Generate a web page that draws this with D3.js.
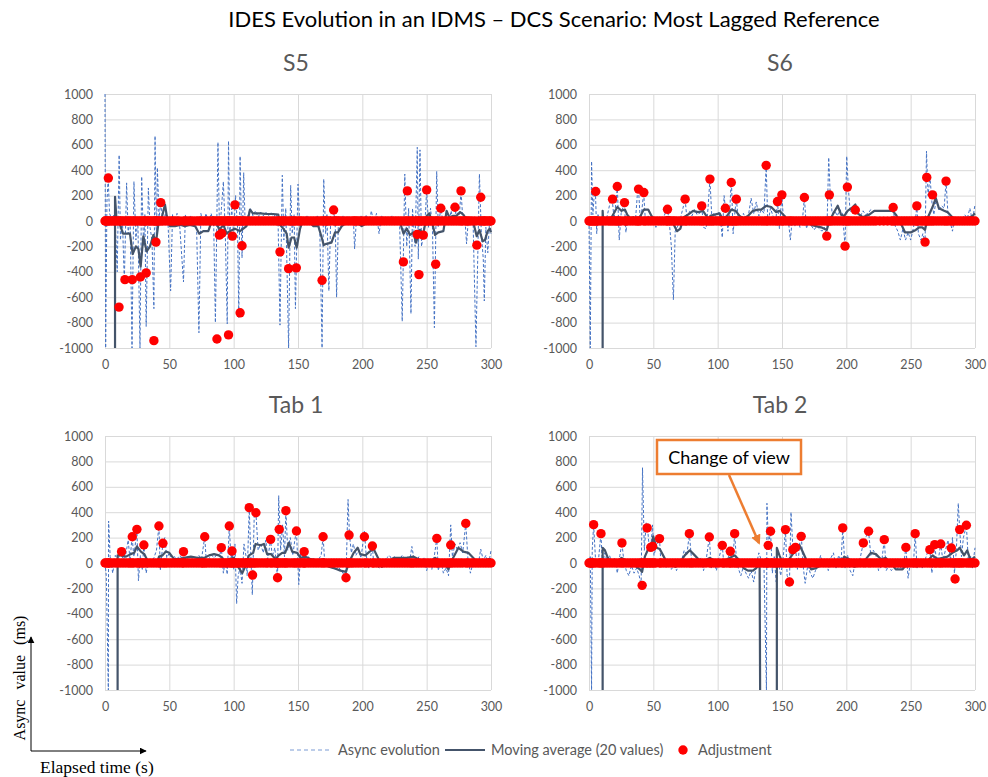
<!DOCTYPE html>
<html>
<head>
<meta charset="utf-8">
<script src="https://cdn.jsdelivr.net/npm/d3@7"></script>
<style>
  body { margin: 0; background: #fff; }
</style>
</head>
<body>
<svg id="chart" width="988" height="777" font-family="Lato, 'Open Sans', sans-serif"></svg>
<script>
// ---- data ----
const xTicks = [0, 50, 100, 150, 200, 250, 300];
const yTicks = [-1000, -800, -600, -400, -200, 0, 200, 400, 600, 800, 1000];

// async evolution, [seconds, ms]
const s5Async = [[0,1000],[0.5,-1000],[1.5,150],[2.5,340],[3.5,60],[5,20],[6.5,50],[8,-20],[9.5,-400],[11,520],[12,-150],[13.5,30],[15,-480],[16.8,300],[18,-100],[19.5,40],[21,-1000],[22.5,310],[24,-150],[25.5,20],[27.2,-1000],[28.5,350],[30,-200],[31,50],[32,-830],[33.7,260],[35,-50],[36.5,-150],[38,-690],[38.9,670],[40,-200],[40.7,420],[42,30],[43.5,150],[45,-30],[47,60],[49,-20],[51,-550],[52.5,50],[54,-20],[56,60],[58,-30],[61,-480],[62.5,50],[64.5,-30],[66.5,40],[68.5,-40],[71,40],[73,-880],[74.5,60],[76.5,-30],[78.5,60],[80.5,-20],[82.5,60],[84.5,-40],[85.8,-800],[87.8,620],[89,-100],[90.5,100],[92,310],[93.5,-100],[95,-810],[96,630],[97,-100],[98.5,100],[100,-100],[101.5,200],[103,-50],[104,-760],[105,510],[106.5,-290],[107.8,380],[109,-50],[111,40],[113,100],[115,40],[117,80],[119,30],[121,70],[123,40],[125,70],[127,40],[129,70],[131,30],[133,60],[134.5,0],[136,-820],[137.8,360],[139,-150],[140.5,100],[142.7,-1000],[144.3,280],[145.5,-100],[147,50],[148,-690],[150,290],[151.5,-50],[153,30],[155,-30],[157,40],[159,-20],[161,30],[163,-20],[165,40],[167,-100],[168.7,-1000],[170,330],[171.5,-100],[172.5,50],[174,-550],[175.5,50],[177.7,90],[179,-50],[180,-600],[181.5,40],[183,-30],[185,40],[187,-20],[189,40],[191,-30],[193,30],[194,-220],[195.5,30],[197,-30],[199,40],[201,-20],[203,50],[205,-30],[207,80],[209,-20],[211,60],[213,-100],[215,40],[217,-30],[219,30],[221,-20],[223,40],[225,-10],[227,30],[229,-30],[231,-790],[233,370],[234.5,-200],[236,100],[237.8,-730],[239,100],[241,-200],[242.7,580],[243.5,-300],[244.8,560],[246,-200],[247.5,-100],[249,50],[250,245],[251.5,-50],[253,100],[254.5,-50],[256,-840],[257.8,390],[259,-50],[261,100],[263,-30],[265,60],[267,-20],[269,80],[271,-30],[273,100],[275,-20],[276.7,237],[278,30],[280,-20],[281,-180],[282.5,30],[284,-20],[286,30],[288.3,-990],[291,370],[292.5,-100],[294,-300],[294.8,-630],[296,-50],[297.5,-250],[299,20],[300,-100]];
const s6Async = [[0,0],[1,-1000],[2,470],[3,50],[4,200],[5,232],[6,-100],[7,50],[9,-20],[11,40],[13,-10],[15,80],[16.5,150],[18,172],[19.5,20],[21,150],[22,272],[23.5,-150],[25,60],[27.5,145],[28.7,-90],[30,40],[32,0],[34,30],[36,-10],[37.5,200],[38.5,251],[40,-20],[42.5,224],[44,-30],[46,40],[48,-20],[50,30],[52,-50],[54,20],[56,-40],[58,30],[60,80],[61,92],[62.5,-20],[64,-200],[65.6,-620],[67,-80],[69,-40],[71,20],[73,100],[74.7,172],[76,30],[78,80],[80,40],[82,90],[84,50],[86,60],[87.6,119],[89,-50],[91,-60],[92.5,100],[94,330],[95.5,20],[97,60],[99,30],[101,70],[102.5,-20],[103.6,-130],[105,200],[106,100],[108,-80],[109.5,100],[110.6,340],[112,-100],[113.5,80],[114.5,172],[116,20],[118,-20],[120,60],[122,10],[124,50],[126,180],[128,60],[130,150],[132,40],[134,90],[136,60],[137.7,438],[139,-30],[141,100],[143,40],[145,-20],[146.5,153],[148,-60],[149.9,206],[151,30],[153,-30],[155,0],[156.5,-150],[158,20],[160,-40],[162,20],[164,-50],[166,20],[167.4,185],[169,-60],[171,10],[173,-40],[175,-70],[177,-40],[179,-60],[181,-80],[183,-50],[184.8,-119],[186.3,500],[187.5,206],[189,60],[191,80],[193,40],[195,90],[197,60],[199,-198],[200.3,510],[201.5,267],[203,70],[205,100],[207,87],[209,60],[211,40],[213,80],[215,50],[217,60],[219,90],[221,70],[223,80],[226,80],[229,80],[232,80],[235,80],[236.4,106],[238,-40],[240,-80],[242,-150],[244,-60],[246,-150],[248,-90],[250,-150],[252,-60],[254,40],[254.8,119],[256,-100],[258,-150],[259.5,-100],[261.2,-166],[262.3,550],[263.5,200],[265,350],[266.5,150],[268,50],[270,180],[272,80],[274,120],[276,100],[277.5,314],[279,50],[281,-20],[282.5,-80],[284,20],[286,0],[288,20],[290,10],[292,50],[294,20],[296,100],[298,0],[300,130]];
const tab1Async = [[0,0],[1,-100],[2.6,-1000],[2.8,330],[4,50],[6,-80],[8,60],[10,20],[12,90],[14,30],[16,60],[18,180],[19.5,20],[21,207],[22.5,50],[24.8,265],[26,-140],[27.5,60],[29,-50],[30.2,142],[32,-80],[34,30],[36,10],[38,40],[40,100],[41.9,291],[43,-60],[45,155],[46.5,200],[48,40],[50,80],[52,20],[54,50],[56,30],[58,60],[60,40],[61,89],[63,20],[65,40],[67,30],[69,50],[71,40],[73,60],[75,30],[76,100],[77.5,207],[79,-30],[81,40],[83,60],[85,40],[87,70],[89,50],[90.4,121],[92,-80],[93.5,20],[95,-90],[96.6,291],[98,20],[98.7,94],[100,-50],[101,150],[102.3,-320],[103.5,-100],[105,-40],[106.5,-160],[108,150],[109.5,60],[110.5,-100],[112.1,436],[113,150],[114.5,-250],[116,380],[117.3,396],[119,100],[121,150],[123,80],[125,180],[126.5,30],[128.7,186],[130,50],[132,120],[133.5,-50],[134.1,-116],[135,530],[136.5,100],[138,300],[139.5,50],[140.6,412],[142,100],[144,200],[146,60],[147.5,180],[148.8,252],[150.6,-170],[152,80],[154,40],[154.8,89],[156,-10],[158,50],[160,20],[162,40],[164,-20],[166,30],[168,60],[169.5,207],[171,-30],[173,20],[175,-40],[177,10],[179,-60],[181,-30],[183,-50],[185,-80],[187.3,-116],[188.9,500],[190,220],[191.5,80],[193,150],[195,60],[197,100],[199,40],[201.6,250],[203,60],[205,-40],[207.8,134],[209,-30],[211,-20],[213,-40],[215,-30],[217,20],[219,40],[221,60],[223,30],[225,50],[227,40],[229,30],[231,60],[233,40],[235,50],[237,30],[238.5,130],[240,40],[242,10],[244,50],[246,-30],[248,40],[250,-60],[252,20],[254,-50],[256,60],[257.9,194],[259,-60],[261,20],[263,-80],[265,-40],[267,-100],[268.7,300],[270,50],[272,150],[274,100],[276,160],[278,80],[280.4,312],[282,40],[284,-80],[286,0],[288,30],[290,-20],[292,110],[294,20],[296,60],[298,-20],[300,100]];
const tab2Async = [[0,0],[1,50],[2,-1000],[2.5,100],[3.6,302],[5,40],[7,-20],[8.5,150],[9.3,231],[10.5,-50],[12,80],[14,20],[16,60],[18,-20],[20,40],[22,-80],[24,60],[25.6,158],[27,20],[29,-60],[31,-100],[33,-20],[35,-80],[37,-40],[39,-100],[40.5,-176],[41.6,750],[43,100],[44.5,320],[45.5,276],[47,100],[48,123],[49.4,300],[50.5,60],[52,120],[54.8,192],[56,-20],[58,30],[60,-40],[62,20],[64,-50],[66,-20],[68,-60],[70,0],[72,20],[74,100],[76,60],[78,231],[79.5,50],[81,-20],[83,20],[85,0],[87,40],[89,-60],[91,20],[93.5,205],[95,-40],[97,20],[99,-60],[101,40],[103.6,139],[105,-40],[107,20],[109,60],[110,92],[111.5,-20],[113.2,231],[114.5,40],[116,-40],[118,-100],[120,-30],[122,-80],[124,-120],[126,-60],[128,-150],[130,-20],[132,80],[134,20],[136,-20],[137.9,-1000],[138.3,470],[139.5,139],[141.1,250],[142.5,-80],[144,50],[145.5,-150],[147,20],[149,-100],[151,50],[152.7,263],[154,-100],[155.8,-150],[157,400],[158.5,105],[160.5,123],[162,-50],[164,180],[165,210],[166.5,-30],[168,-160],[170,-20],[172,-80],[174,-120],[176,-60],[178,-20],[180,60],[182,-30],[184,20],[186,-60],[188,40],[190,80],[192,-40],[194,60],[196,20],[197.2,276],[199,-40],[201,60],[203,-60],[205,-100],[207,20],[209,-30],[211,50],[213.2,158],[215,200],[217.3,250],[219,60],[221,100],[223,60],[225,-60],[227,-30],[229.5,184],[231,-60],[233,-20],[235,-60],[237,-40],[239,-60],[241,-20],[243,-50],[245,20],[246.3,123],[248,-120],[250,20],[252,-40],[253.5,231],[255,-40],[257,30],[259,-40],[261,20],[263,80],[264.9,105],[266.5,-80],[268.7,145],[270,20],[272,60],[273.4,150],[275,20],[277,100],[279,180],[281,20],[282.5,200],[284,-80],[285.5,100],[287,470],[288.1,263],[289.5,50],[291,200],[293.3,297],[295,-20],[296.5,60],[298,-40],[300,120]];

// moving average (20 values), [seconds, ms]; null = no value
const s5Ma = [[7.8,-1000],[7.8,190],[9,0],[11.7,-30],[14,-100],[17,-100],[19.4,-100],[21.5,-260],[24,-200],[26,-220],[27.7,-360],[29.8,-120],[32.4,-240],[35,-200],[37.6,-110],[39.6,-170],[41.5,-20],[44,20],[46.6,130],[48,40],[50.5,-40],[54.4,-40],[58.3,-30],[62,-40],[66,-30],[70,-40],[73.3,-100],[76.4,-80],[80.3,-80],[84,30],[86.8,-20],[88.9,-70],[92,-30],[94.6,-100],[97,-80],[101,-60],[105,-80],[110,-40],[112.7,90],[115,60],[120.5,60],[125.6,55],[130.8,55],[134.7,50],[136,-30],[138.6,-60],[141.2,-100],[142.7,-210],[145,-130],[147,-130],[149,-210],[151.6,-60],[154,10],[156.7,10],[162,-40],[165.8,-40],[168.4,-130],[170,-190],[172,-180],[176,-170],[178.8,-90],[181,-90],[184,-40],[188,-10],[191.7,10],[195.6,-10],[199.5,-40],[203,-20],[208.5,10],[213.7,20],[219,10],[224,10],[229,0],[232,-100],[234.5,-60],[237,-110],[239.6,-90],[241.7,-170],[244.8,-70],[247.4,-100],[250,40],[252,60],[254,0],[256.5,-110],[259,-90],[263,-80],[265.5,80],[267.6,30],[270.7,40],[273,40],[276,70],[278.5,50],[281,10],[283.7,0],[286,0],[288.9,-120],[291,-70],[293.5,-160],[295.3,-150],[297.4,-80],[299,-60],[300,-90]];
const s6Ma = [[10.6,-1000],[10.6,80],[11,0],[13.7,-10],[17.6,30],[22,110],[25.3,80],[28,90],[29.7,50],[32.3,20],[34.4,30],[37,0],[39.5,30],[42.6,90],[46,90],[48.6,40],[52.5,0],[56.3,-10],[60.2,30],[62.8,30],[65.4,-20],[68.5,-80],[71,-60],[73.6,30],[77,50],[80.9,80],[84.8,70],[88.6,80],[91.2,40],[92.5,0],[94.3,40],[97.7,50],[101.6,60],[103.6,20],[106.7,30],[110.6,90],[114,80],[117,40],[120,20],[123.5,40],[127.4,80],[131.3,90],[133.9,90],[137.7,120],[141.6,110],[145.5,70],[148,80],[152,40],[154.5,0],[158.4,-10],[162.3,-20],[166,0],[168.7,10],[172.6,-30],[176.5,-40],[180.4,-50],[184.8,-70],[186.8,0],[189.4,50],[193.3,120],[195.9,50],[198.4,40],[201,80],[205,110],[207,130],[208.8,60],[212.7,30],[217.8,50],[221.7,80],[228,80],[235.9,80],[238.5,50],[242.4,-20],[245.7,-90],[250,-90],[254,-70],[256.6,-50],[259,-50],[261.2,-70],[263,20],[267,110],[269.5,180],[272,100],[276,80],[278.6,70],[282.4,30],[286.3,-10],[290,10],[294,20],[298,40],[300,60]];
const tab1Ma = [[9.8,-1000],[9.8,60],[12.4,60],[16.3,50],[20,70],[22.7,80],[24.8,130],[27.9,90],[30.5,70],[33,20],[36,10],[38.2,0],[40.3,0],[42,50],[44.7,60],[47.3,90],[50,80],[53.7,30],[57.6,30],[61.5,40],[66.7,50],[71.8,40],[77,40],[80.9,60],[84.8,70],[88.6,60],[91.2,40],[93.8,0],[96.4,30],[100.3,40],[102.8,-20],[106.7,-80],[109.3,-20],[111.9,60],[115.2,80],[117,150],[121,140],[123.5,150],[126,70],[129,70],[132.6,30],[135,60],[137.7,80],[140,80],[142.9,160],[145.5,90],[149.4,80],[152,40],[155.8,50],[159.7,30],[164.9,20],[170,30],[174,-30],[177.8,-40],[183,-60],[187.3,-70],[189.4,0],[193.3,80],[196.4,120],[198.4,70],[202.3,60],[205.7,90],[208.8,110],[212.7,30],[215.2,-30],[219,0],[224.3,40],[229.5,40],[234.6,40],[239.8,50],[243.7,30],[247.5,10],[252.7,10],[256.6,40],[260.5,10],[264.3,-10],[266.9,-50],[269.5,20],[274.7,120],[278.6,90],[282.4,80],[286.3,40],[290.2,0],[294,10],[298,30],[300,30]];
const tab2Ma = [[10.6,-1000],[10.6,120],[12.4,100],[15,30],[18.9,20],[22.7,20],[25.3,40],[29.2,20],[33,-10],[37,-30],[39.5,-50],[41.3,-70],[43.4,50],[46,110],[48.6,130],[49.9,210],[52.5,120],[55,110],[57.6,60],[60.2,10],[64,-10],[67.4,-30],[70.5,0],[74.4,60],[78.3,100],[82.2,60],[86,20],[90,20],[93.8,40],[97.7,20],[101.6,10],[105.4,20],[109.3,40],[113.2,60],[117,20],[120,-40],[123.5,-60],[127.4,-60],[130,-40],[132.6,-10],[133,-1000],[139,null],[146,-1000],[146,120],[148,60],[150.6,0],[153.7,0],[156.3,40],[159.7,90],[163.6,140],[166,90],[168.7,30],[172.6,-50],[176.5,-40],[181.7,-10],[186.8,10],[192,20],[195.9,10],[198.4,50],[202.3,30],[206.2,-30],[210,-20],[215.2,30],[219,80],[223,70],[226.9,30],[230.7,40],[234.6,0],[238.5,-50],[243.7,-50],[247.5,0],[251.4,20],[256.6,0],[261.8,0],[267,60],[270.9,30],[274.8,40],[278.6,50],[282.4,80],[286.3,100],[288.1,120],[291.5,60],[294,100],[296.6,20],[300,50]];

// adjustments (non-zero), [seconds, ms]; every other sample is a 0 adjustment
const s5Adj = [[2.6,338],[10.9,-678],[15.5,-462],[21.2,-462],[27.5,-441],[32,-409],[38,-942],[39.6,-166],[43.3,145],[87,-929],[88.9,-111],[90.7,-98],[96,-897],[99,-119],[101,127],[105,-723],[106.5,-195],[136,-243],[142.7,-375],[148.7,-369],[168.7,-467],[177.7,87],[231.9,-322],[235,237],[242.7,-106],[244,-422],[247.4,-111],[250,245],[257,-340],[261,100],[272,108],[276.7,237],[289,-190],[292,187]];
const s6Adj = [[5.2,232],[18.3,172],[22,272],[27.6,145],[38.5,251],[42.6,224],[61,92],[74.7,172],[87.6,119],[94,330],[106,100],[110.6,303],[114.5,172],[137.7,438],[146.5,153],[149.9,206],[167.4,185],[184.8,-119],[186.8,206],[199,-198],[200.8,267],[207,87],[236.4,106],[254.8,119],[261.2,-166],[262.5,343],[267,206],[277.5,314]];
const tab1Adj = [[12.9,89],[21.2,207],[24.8,265],[30.2,142],[41.9,291],[45,155],[61,89],[77.5,207],[90.4,121],[96.6,291],[98.7,94],[112.1,436],[114.7,-95],[117.3,396],[128.7,186],[134.1,-116],[135.4,265],[140.6,412],[148.8,252],[154.8,89],[169.5,207],[187.3,-116],[189.7,220],[201.6,207],[207.8,134],[257.9,194],[268.7,142],[280.4,312]];
const tab2Adj = [[3.6,302],[9.3,231],[25.6,158],[41.3,-176],[45.2,276],[48,123],[49.4,131],[54.8,192],[78,231],[93.5,205],[103.6,139],[109.8,92],[113.2,231],[139.3,139],[141.1,250],[152.7,263],[155.8,-150],[158.4,105],[160.5,123],[164.9,210],[197.2,276],[213.2,158],[217.3,250],[229.5,184],[246.3,123],[253.5,231],[264.9,105],[268.7,145],[273.4,150],[281.6,118],[284.5,-126],[288.1,263],[293.3,297]];

const panels = [
  { title: "S5",    async: s5Async,   ma: s5Ma,   adj: s5Adj,   left: 105, top: 94 },
  { title: "S6",    async: s6Async,   ma: s6Ma,   adj: s6Adj,   left: 589, top: 94 },
  { title: "Tab 1", async: tab1Async, ma: tab1Ma, adj: tab1Adj, left: 105, top: 436 },
  { title: "Tab 2", async: tab2Async, ma: tab2Ma, adj: tab2Adj, left: 589, top: 436 }
];

// ---- drawing ----
const plotW = 386, plotH = 254;
const gridColor = "#d9d9d9", labelColor = "#595959";
const asyncColor = "#4472c4", maColor = "#44546a", adjColor = "#ff0000";
const serif = "'Liberation Serif', 'DejaVu Serif', serif";

const svg = d3.select("#chart");
svg.append("rect").attr("width", 988).attr("height", 777).attr("fill", "#fff");

const defs = svg.append("defs");
defs.append("marker").attr("id", "arrowBlack")
  .attr("viewBox", "0 0 10 10").attr("refX", 9).attr("refY", 5)
  .attr("markerWidth", 7).attr("markerHeight", 7).attr("orient", "auto")
  .append("path").attr("d", "M0,0L10,5L0,10z").attr("fill", "#000");
defs.append("marker").attr("id", "arrowOrange")
  .attr("viewBox", "0 0 10 10").attr("refX", 8).attr("refY", 5)
  .attr("markerWidth", 4).attr("markerHeight", 4).attr("orient", "auto")
  .append("path").attr("d", "M0,0L10,5L0,10z").attr("fill", "#ed7d31");

svg.append("text")
  .attr("x", 554).attr("y", 27)
  .attr("text-anchor", "middle")
  .attr("font-size", 22)
  .attr("fill", "#000")
  .text("IDES Evolution in an IDMS \u2013 DCS Scenario: Most Lagged Reference");

panels.forEach(function (p, i) {
  const x = d3.scaleLinear().domain([0, 300]).range([p.left, p.left + plotW]);
  const y = d3.scaleLinear().domain([-1000, 1000]).range([p.top + plotH, p.top]);
  const g = svg.append("g");

  g.append("text")
    .attr("x", p.left + plotW / 2 - 2).attr("y", p.top - 23)
    .attr("text-anchor", "middle")
    .attr("font-size", 23)
    .attr("fill", labelColor)
    .text(p.title);

  const yAxis = g.append("g")
    .attr("transform", "translate(" + p.left + ",0)")
    .call(d3.axisLeft(y).tickValues(yTicks).tickSize(-plotW).tickPadding(12)
      .tickFormat(d => String(d)));
  const xAxis = g.append("g")
    .attr("transform", "translate(0," + (p.top + plotH) + ")")
    .call(d3.axisBottom(x).tickValues(xTicks).tickSize(-plotH).tickPadding(12)
      .tickFormat(d => String(d)));
  [yAxis, xAxis].forEach(function (a) {
    a.attr("font-family", null).attr("font-size", null);
    a.select(".domain").remove();
    a.selectAll("line").attr("stroke", gridColor).attr("stroke-width", 1);
    a.selectAll("text").attr("fill", labelColor).attr("font-size", 12.5);
  });

  const clipId = "clip" + i;
  defs.append("clipPath").attr("id", clipId)
    .append("rect").attr("x", p.left - 6).attr("y", p.top)
    .attr("width", plotW + 12).attr("height", plotH);

  const line = d3.line()
    .defined(d => d[1] !== null)
    .x(d => x(d[0])).y(d => y(d[1]));

  g.append("path").datum(p.async)
    .attr("clip-path", "url(#" + clipId + ")")
    .attr("d", line)
    .attr("fill", "none").attr("stroke", asyncColor)
    .attr("stroke-width", 1).attr("stroke-dasharray", "3,2");

  g.append("path").datum(p.ma)
    .attr("clip-path", "url(#" + clipId + ")")
    .attr("d", line)
    .attr("fill", "none").attr("stroke", maColor)
    .attr("stroke-width", 2.2).attr("stroke-linejoin", "round");

  // adjustment series: 0 at every sample, plus the real adjustments
  const zeroAdj = p.async.map(d => [d[0], 0]);
  const adjSeries = zeroAdj.concat(p.adj);
  g.selectAll("circle.adj").data(adjSeries).enter()
    .append("circle").attr("class", "adj")
    .attr("cx", d => x(d[0])).attr("cy", d => y(d[1]))
    .attr("r", 4.7).attr("fill", adjColor);
});

// "Change of view" callout on Tab 2
svg.append("line")
  .attr("x1", 729).attr("y1", 475).attr("x2", 759).attr("y2", 543)
  .attr("stroke", "#ed7d31").attr("stroke-width", 2.5)
  .attr("marker-end", "url(#arrowOrange)");
svg.append("rect")
  .attr("x", 657).attr("y", 440).attr("width", 144).attr("height", 34)
  .attr("fill", "#fff").attr("stroke", "#ed7d31").attr("stroke-width", 2.5);
svg.append("text")
  .attr("x", 729).attr("y", 464).attr("text-anchor", "middle")
  .attr("font-size", 18).attr("fill", "#000")
  .text("Change of view");

// legend
const legend = svg.append("g").attr("font-size", 14.5).attr("fill", labelColor);
legend.append("line").attr("x1", 290).attr("x2", 329).attr("y1", 750).attr("y2", 750)
  .attr("stroke", asyncColor).attr("stroke-width", 1).attr("stroke-dasharray", "4,3").attr("opacity", 0.7);
legend.append("text").attr("x", 338).attr("y", 755).text("Async evolution");
legend.append("line").attr("x1", 445).attr("x2", 485).attr("y1", 750).attr("y2", 750)
  .attr("stroke", maColor).attr("stroke-width", 2.2);
legend.append("text").attr("x", 491).attr("y", 755).text("Moving average (20 values)");
legend.append("circle").attr("cx", 683).attr("cy", 750).attr("r", 4.7).attr("fill", adjColor);
legend.append("text").attr("x", 698).attr("y", 755).text("Adjustment");

// axis hint arrows (bottom left)
svg.append("line").attr("x1", 31).attr("y1", 751).attr("x2", 31).attr("y2", 637)
  .attr("stroke", "#000").attr("stroke-width", 1).attr("marker-end", "url(#arrowBlack)");
svg.append("line").attr("x1", 31).attr("y1", 751).attr("x2", 146).attr("y2", 751)
  .attr("stroke", "#000").attr("stroke-width", 1).attr("marker-end", "url(#arrowBlack)");
svg.append("text")
  .attr("transform", "translate(25,678) rotate(-90)")
  .attr("text-anchor", "middle")
  .attr("font-family", serif)
  .attr("font-size", 16).attr("word-spacing", 6).attr("fill", "#000")
  .text("Async value (ms)");
svg.append("text")
  .attr("x", 40).attr("y", 773)
  .attr("font-family", serif)
  .attr("font-size", 17.5).attr("fill", "#000")
  .text("Elapsed time (s)");
</script>
</body>
</html>
